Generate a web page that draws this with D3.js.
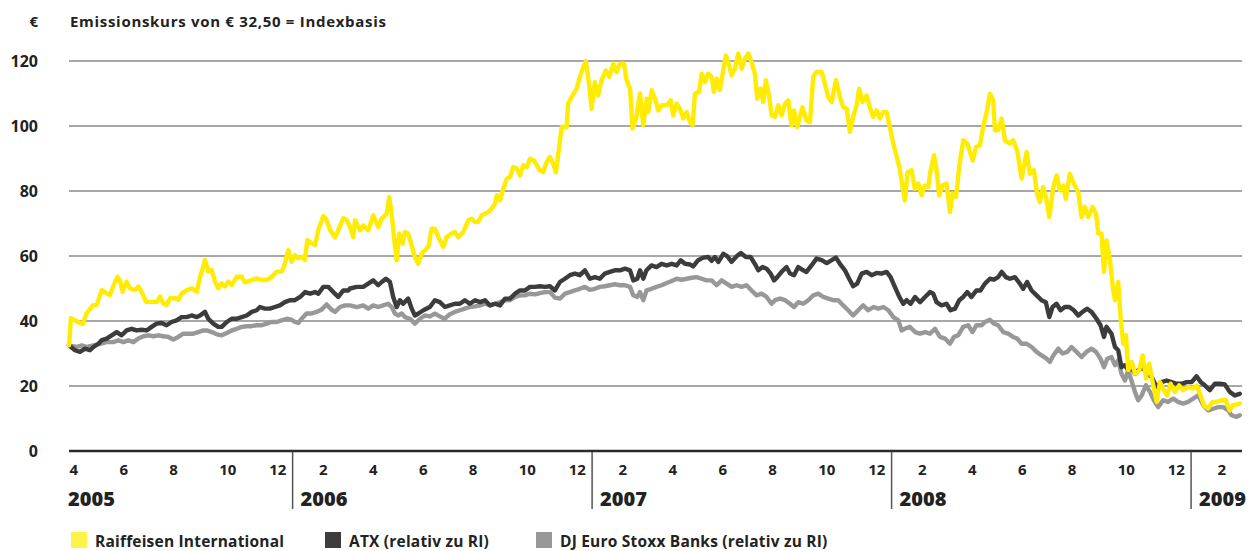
<!DOCTYPE html>
<html><head><meta charset="utf-8">
<script src="https://cdn.jsdelivr.net/npm/d3@7"></script>
<style>body{margin:0;background:#fff}svg{display:block}</style>
</head><body>
<svg id="chart" width="1254" height="551"></svg>
<script>
// time = months since 2005-01-01 (3 = April 2005), value = € (Index basis 32,50)
const riSeries = [[3.04,32.5],[3.12,40.9],[3.48,39.4],[3.59,39.1],[3.75,42.4],[4.01,44.9],[4.15,44.9],[4.35,49.5],[4.55,48.5],[4.68,48.0],[4.81,50.6],[4.98,53.6],[5.08,52.6],[5.19,49.0],[5.35,52.1],[5.48,50.1],[5.68,49.5],[5.82,50.6],[5.95,49.0],[6.13,45.9],[6.35,45.9],[6.55,45.9],[6.69,47.5],[6.82,45.4],[6.95,44.9],[7.09,47.0],[7.29,47.0],[7.42,46.5],[7.56,48.5],[7.76,49.5],[7.96,50.1],[8.16,49.0],[8.29,53.6],[8.40,56.2],[8.49,58.8],[8.62,55.2],[8.76,55.7],[8.89,52.1],[9.02,50.1],[9.16,51.6],[9.29,50.6],[9.42,52.1],[9.56,51.1],[9.76,53.6],[9.96,53.6],[10.09,51.9],[10.36,52.6],[10.56,53.1],[10.76,52.6],[10.96,52.6],[11.16,53.6],[11.36,55.2],[11.56,55.2],[11.65,56.7],[11.83,61.8],[11.96,58.2],[12.09,60.3],[12.23,59.3],[12.36,59.8],[12.49,58.8],[12.59,64.9],[12.76,63.9],[12.90,63.4],[13.03,68.0],[13.23,72.3],[13.36,71.1],[13.50,68.0],[13.70,65.7],[13.83,68.0],[14.03,71.6],[14.17,71.1],
[14.30,68.9],[14.43,65.8],[14.50,71.0],[14.70,67.9],[14.83,69.4],[15.03,67.9],[15.23,72.5],[15.43,68.9],[15.57,71.5],[15.77,73.0],[15.87,78.2],[15.97,73.0],[16.06,65.8],[16.17,58.7],[16.27,66.9],[16.41,63.8],[16.50,67.4],[16.63,66.9],[16.77,63.3],[16.90,59.7],[17.03,57.6],[17.17,60.7],[17.30,61.7],[17.44,62.8],[17.57,68.4],[17.70,68.4],[17.84,65.8],[18.04,62.8],[18.17,65.8],[18.37,66.9],[18.50,67.4],[18.64,65.8],[18.84,67.4],[19.04,71.0],[19.17,71.5],[19.31,70.5],[19.44,70.5],[19.57,72.5],[19.71,73.0],[19.84,73.5],[19.98,74.6],[20.11,76.1],[20.18,78.7],[20.31,77.1],[20.44,80.7],[20.58,83.8],[20.71,84.3],[20.84,87.4],[20.98,86.9],[21.11,84.8],[21.24,87.9],[21.38,87.4],[21.51,89.9],[21.67,89.4],[21.78,87.9],[21.91,86.4],[22.04,85.8],[22.18,88.9],[22.31,90.5],[22.44,88.4],[22.55,85.8],[22.68,93.5],[22.78,99.7],[22.98,99.7],[23.04,106.9],[23.18,108.9],[23.38,111.5],[23.51,115.1],[23.65,118.2],[23.75,120.0],[23.89,112.0],[23.98,105.3],[24.11,113.5],[24.24,109.4],[24.38,114.1],[24.55,117.1],[24.69,115.1],[24.85,119.2],[24.98,116.6],[25.12,119.2],[25.28,119.2],[25.38,114.1],[25.52,111.5],[25.62,99.2],[25.76,102.3],
[25.92,110.0],[26.05,100.2],[26.19,108.4],[26.25,104.3],[26.39,111.0],[26.52,108.4],[26.65,104.8],[26.79,106.4],[26.99,106.4],[27.15,107.9],[27.25,103.3],[27.39,106.9],[27.52,105.3],[27.65,102.3],[27.79,104.3],[27.92,101.2],[28.03,100.2],[28.12,110.0],[28.29,110.5],[28.39,116.1],[28.52,113.5],[28.65,116.1],[28.79,115.1],[28.88,110.5],[28.99,114.6],[29.12,111.0],[29.23,116.1],[29.36,121.7],[29.45,119.7],[29.59,115.6],[29.72,117.6],[29.86,122.3],[29.99,117.6],[30.12,120.7],[30.26,122.3],[30.39,119.7],[30.52,116.1],[30.62,108.4],[30.75,111.5],[30.86,107.4],[30.96,114.1],[31.10,108.9],[31.19,103.3],[31.33,102.8],[31.46,106.4],[31.59,103.3],[31.73,106.9],[31.86,107.9],[31.99,100.2],[32.09,104.8],[32.22,99.7],[32.33,102.8],[32.43,105.8],[32.59,101.7],[32.73,101.2],[32.86,115.1],[32.99,116.6],[33.20,116.6],[33.33,113.0],[33.46,108.9],[33.60,107.4],[33.77,114.1],[33.93,108.9],[34.06,105.8],[34.20,105.3],[34.33,98.2],[34.46,102.8],[34.60,106.4],[34.70,111.5],[34.84,107.4],[35.00,109.4],[35.13,105.8],[35.26,102.8],[35.40,104.8],[35.53,102.3],[35.66,104.3],[35.80,104.3],[35.93,99.7],[36.04,95.6],[36.17,91.5],[36.31,87.4],[36.44,81.2],[36.53,77.1],[36.64,85.8],[36.80,86.4],[36.93,80.7],[37.07,82.3],[37.20,78.7],[37.33,81.7],[37.47,81.2],
[37.54,85.3],[37.70,91.0],[37.80,86.4],[37.91,78.7],[38.04,81.7],[38.20,82.3],[38.34,73.5],[38.44,79.2],[38.58,78.2],[38.71,87.4],[38.87,95.6],[39.03,94.6],[39.25,89.4],[39.38,93.5],[39.54,94.1],[39.67,99.7],[39.81,104.3],[39.94,109.9],[40.07,107.9],[40.14,98.7],[40.27,98.7],[40.41,102.3],[40.54,95.6],[40.74,94.6],[40.87,95.6],[41.03,92.5],[41.21,83.8],[41.41,92.0],[41.54,85.3],[41.70,86.4],[41.83,79.2],[41.94,76.6],[42.07,81.2],[42.21,77.1],[42.32,72.0],[42.48,81.2],[42.61,84.8],[42.74,80.2],[42.88,81.7],[42.98,77.6],[43.14,85.3],[43.30,82.3],[43.48,79.7],[43.61,72.0],[43.74,75.1],[43.88,72.0],[44.05,75.1],[44.19,73.0],[44.28,66.9],[44.41,66.9],[44.51,55.1],[44.61,64.8],[44.75,58.7],[44.86,50.5],[44.95,46.4],[45.08,52.0],[45.18,40.7],[45.28,33.0],[45.39,35.6],[45.48,24.8],[45.62,27.4],[45.75,23.8],[45.92,24.8],[46.06,29.4],[46.19,22.3],[46.32,26.9],[46.46,21.2],[46.62,15.1],[46.75,21.2],[46.88,19.2],[47.04,17.1],[47.18,20.7],[47.35,18.2],[47.52,20.2],[47.68,18.7],[47.88,19.7],[48.08,19.2],[48.22,20.2],[48.38,17.1],[48.51,14.1],[48.68,13.1],[48.86,15.1],[49.02,15.1],[49.22,15.6],[49.39,15.6],[49.55,12.5],[49.68,14.1],[49.95,14.6]];

const atxSeries = [[3.04,32.5],[3.28,31.0],[3.48,30.5],[3.68,31.5],[3.88,31.0],[4.02,32.0],[4.22,33.0],[4.35,34.1],[4.55,34.6],[4.75,35.6],[4.95,36.6],[5.15,35.6],[5.35,37.1],[5.55,37.6],[5.75,37.1],[5.95,37.3],[6.15,37.1],[6.35,38.2],[6.55,39.2],[6.75,39.4],[6.95,38.7],[7.15,39.7],[7.35,40.2],[7.55,41.2],[7.75,41.2],[7.95,41.7],[8.16,41.2],[8.29,41.7],[8.49,42.8],[8.62,40.7],[8.82,39.2],[9.02,38.2],[9.16,38.2],[9.36,39.7],[9.56,40.7],[9.76,40.7],[9.96,41.2],[10.16,41.7],[10.36,42.8],[10.56,43.3],[10.69,44.3],[10.89,43.8],[11.09,43.8],[11.29,44.3],[11.49,44.8],[11.69,45.8],[11.89,46.4],[12.09,46.4],[12.30,47.4],[12.50,48.9],[12.70,48.4],[12.90,48.9],[13.03,48.4],[13.23,50.5],[13.43,50.5],[13.63,48.9],[13.83,47.4],[14.03,49.4],[14.23,49.4],
[14.30,50.0],[14.57,50.5],[14.83,50.5],[15.03,51.5],[15.23,52.5],[15.43,51.0],[15.57,52.0],[15.74,53.0],[15.90,52.0],[16.03,47.4],[16.17,44.3],[16.30,46.4],[16.43,45.3],[16.63,46.9],[16.77,43.8],[16.90,41.7],[17.04,42.3],[17.24,43.3],[17.50,44.3],[17.70,46.4],[17.90,45.8],[18.10,44.3],[18.30,44.8],[18.50,45.3],[18.70,45.3],[18.90,46.4],[19.10,45.3],[19.31,46.4],[19.51,45.8],[19.71,46.4],[19.91,44.8],[20.11,45.3],[20.31,44.8],[20.51,46.9],[20.71,46.9],[20.91,48.4],[21.11,49.4],[21.31,49.4],[21.51,50.5],[21.71,50.5],[21.91,50.7],[22.11,50.5],[22.31,50.7],[22.51,49.4],[22.71,52.0],[22.91,53.0],[23.11,54.1],[23.31,54.6],[23.51,54.1],[23.71,55.6],[23.91,53.0],[24.11,53.5],[24.31,53.0],[24.51,54.6],[24.71,55.1],[24.91,55.6],[25.12,55.6],[25.32,56.1],[25.52,55.6],[25.65,52.5],[25.81,53.0],
[25.92,55.6],[26.05,53.0],[26.18,55.6],[26.38,57.1],[26.58,56.6],[26.78,57.6],[26.99,57.1],[27.19,57.6],[27.39,57.1],[27.55,58.7],[27.72,57.6],[27.92,57.4],[28.05,56.8],[28.25,58.7],[28.45,59.5],[28.65,59.7],[28.79,58.5],[28.92,59.7],[29.06,58.2],[29.26,60.7],[29.42,59.9],[29.59,58.2],[29.79,59.9],[29.96,60.9],[30.16,59.7],[30.35,59.7],[30.52,57.6],[30.66,55.6],[30.83,56.6],[30.99,56.1],[31.15,54.6],[31.29,52.5],[31.42,53.5],[31.59,55.1],[31.79,56.6],[31.93,54.6],[32.09,54.1],[32.26,56.6],[32.46,55.6],[32.59,55.1],[32.79,57.1],[32.99,59.2],[33.20,58.7],[33.40,57.8],[33.60,58.7],[33.77,59.5],[33.93,57.6],[34.13,55.6],[34.30,53.0],[34.46,50.7],[34.62,51.5],[34.80,54.6],[35.00,55.1],[35.20,54.1],[35.40,54.8],[35.60,54.6],[35.80,55.1],[35.96,53.5],[36.13,50.5],[36.31,47.4],[36.47,45.3],[36.60,46.4],[36.76,45.3],[36.94,47.4],[37.14,45.8],[37.34,47.4],
[37.54,48.9],[37.67,48.4],[37.80,45.8],[38.00,44.8],[38.20,45.3],[38.36,43.3],[38.54,43.8],[38.71,46.4],[38.87,47.4],[39.03,48.9],[39.20,47.4],[39.40,49.4],[39.56,49.4],[39.74,51.5],[39.94,53.0],[40.10,52.7],[40.27,53.5],[40.41,55.1],[40.58,53.5],[40.74,53.0],[40.94,53.5],[41.14,51.5],[41.27,49.9],[41.43,52.0],[41.61,49.4],[41.81,47.9],[42.01,46.4],[42.18,45.8],[42.32,41.2],[42.45,44.3],[42.61,45.3],[42.77,43.3],[42.94,44.3],[43.12,44.3],[43.30,43.3],[43.48,41.7],[43.65,42.8],[43.84,43.8],[44.01,42.8],[44.21,40.7],[44.37,38.7],[44.51,35.1],[44.61,38.2],[44.81,36.1],[44.95,32.0],[45.08,31.0],[45.21,25.8],[45.35,26.4],[45.48,24.8],[45.61,25.8],[45.75,23.8],[45.88,24.8],[46.06,25.8],[46.22,23.8],[46.42,22.8],[46.62,19.7],[46.82,21.2],[47.02,21.7],[47.22,21.2],[47.42,20.7],[47.62,20.7],[47.82,21.2],[48.02,21.2],[48.22,23.0],[48.38,21.2],[48.55,20.2],[48.75,18.7],[48.95,20.7],[49.15,20.7],[49.35,20.5],[49.55,18.2],[49.75,17.1],[49.95,17.6]];

const djSeries = [[3.04,32.5],[3.35,32.0],[3.55,32.5],[3.75,32.0],[4.02,32.5],[4.28,33.0],[4.55,33.5],[4.82,33.5],[5.02,34.1],[5.22,33.5],[5.42,34.1],[5.62,33.5],[5.82,34.6],[6.02,35.3],[6.22,35.6],[6.42,35.3],[6.62,35.6],[6.82,35.3],[7.02,35.1],[7.22,34.3],[7.42,35.1],[7.62,36.1],[7.82,36.1],[8.02,36.1],[8.22,36.6],[8.42,37.1],[8.56,37.1],[8.76,36.6],[8.96,35.9],[9.16,35.6],[9.36,36.3],[9.56,37.1],[9.76,37.6],[9.96,38.2],[10.16,38.4],[10.36,38.4],[10.56,38.7],[10.76,38.7],[10.96,39.2],[11.16,39.7],[11.36,39.7],[11.56,40.2],[11.76,40.7],[11.96,40.4],[12.09,39.7],[12.23,39.4],[12.36,40.7],[12.56,42.3],[12.76,42.3],[12.96,42.8],[13.16,43.5],[13.36,45.1],[13.56,43.5],[13.70,42.8],[13.90,44.3],[14.10,44.8],
[14.30,44.8],[14.57,44.3],[14.83,44.8],[15.03,43.8],[15.23,44.8],[15.43,44.3],[15.63,44.8],[15.83,45.3],[15.97,44.3],[16.10,42.3],[16.23,41.7],[16.37,42.3],[16.50,41.2],[16.70,40.7],[16.90,39.2],[17.10,40.7],[17.30,41.7],[17.50,41.4],[17.70,42.3],[17.90,41.4],[18.10,40.7],[18.30,42.1],[18.50,42.8],[18.70,43.3],[18.90,43.8],[19.10,44.3],[19.31,44.5],[19.51,44.8],[19.71,45.3],[19.91,44.8],[20.11,45.3],[20.31,45.8],[20.51,46.4],[20.71,46.4],[20.91,47.4],[21.11,47.9],[21.31,47.9],[21.51,48.4],[21.71,48.2],[21.91,48.6],[22.11,48.9],[22.31,48.9],[22.51,47.2],[22.71,46.9],[22.91,48.4],[23.11,48.9],[23.31,49.4],[23.51,49.9],[23.71,50.5],[23.91,49.6],[24.11,49.9],[24.31,50.5],[24.51,50.7],[24.71,51.0],[24.91,51.3],[25.12,51.0],[25.32,51.0],[25.52,50.5],[25.65,47.9],[25.81,47.4],
[25.92,48.9],[26.05,46.4],[26.18,49.4],[26.38,49.9],[26.58,50.5],[26.78,51.0],[26.99,51.7],[27.19,52.3],[27.39,53.0],[27.59,52.7],[27.79,53.0],[27.99,53.3],[28.19,53.5],[28.39,53.0],[28.59,52.5],[28.79,52.5],[28.99,51.0],[29.19,52.5],[29.39,51.5],[29.59,50.5],[29.79,51.0],[29.99,50.5],[30.19,51.0],[30.39,49.4],[30.59,47.9],[30.79,48.4],[30.99,47.4],[31.19,45.3],[31.33,46.4],[31.53,46.9],[31.73,46.4],[31.93,45.3],[32.09,44.3],[32.26,45.8],[32.46,45.3],[32.66,46.4],[32.86,47.9],[33.06,48.4],[33.26,47.4],[33.46,46.9],[33.66,46.4],[33.86,46.4],[34.06,44.8],[34.26,43.3],[34.46,41.7],[34.66,43.3],[34.86,44.8],[35.07,43.3],[35.27,44.3],[35.47,43.8],[35.67,44.3],[35.87,43.3],[36.07,41.2],[36.27,40.2],[36.40,37.1],[36.53,37.6],[36.73,38.2],[36.94,36.6],[37.14,36.1],[37.34,36.6],
[37.54,36.1],[37.74,37.6],[37.94,35.1],[38.14,34.6],[38.34,33.0],[38.50,35.1],[38.67,35.6],[38.87,38.2],[39.07,38.7],[39.24,36.6],[39.40,38.7],[39.61,38.7],[39.74,39.7],[39.94,40.4],[40.10,39.2],[40.27,38.7],[40.47,36.6],[40.67,36.1],[40.87,35.1],[41.03,34.6],[41.21,33.0],[41.41,33.0],[41.61,32.0],[41.81,30.5],[42.01,29.4],[42.21,28.4],[42.34,27.4],[42.48,29.4],[42.68,31.5],[42.85,30.0],[43.04,30.5],[43.21,32.0],[43.41,30.5],[43.61,28.9],[43.81,30.5],[44.01,31.5],[44.19,30.5],[44.37,28.4],[44.51,25.8],[44.64,28.4],[44.81,28.9],[44.95,26.4],[45.08,27.9],[45.21,23.8],[45.35,21.7],[45.48,24.8],[45.61,21.7],[45.75,18.2],[45.88,15.6],[46.02,17.1],[46.19,20.2],[46.35,18.2],[46.51,15.6],[46.68,13.5],[46.88,15.6],[47.08,15.1],[47.28,16.1],[47.48,15.1],[47.68,14.6],[47.88,15.1],[48.08,16.1],[48.29,17.1],[48.49,14.1],[48.69,12.5],[48.89,13.0],[49.09,13.5],[49.29,13.5],[49.49,12.5],[49.62,11.0],[49.82,10.5],[49.95,11.0]];

const yTicks = [0,20,40,60,80,100,120];
const monthTicks = [3,5,7,9,11,13,15,17,19,21,23,25,27,29,31,33,35,37,39,41,43,45,47,49];
const monthLabels = ["4","6","8","10","12","2","4","6","8","10","12","2","4","6","8","10","12","2","4","6","8","10","12","2"];
const yearStarts = [3,12,24,36,48];
const yearLabels = ["2005","2006","2007","2008","2009"];
const seriesNames = ["Raiffeisen International","ATX (relativ zu RI)","DJ Euro Stoxx Banks (relativ zu RI)"];
const seriesColors = ["#ffec00","#3c3c3c","#98989b"];
const subtitle = "Emissionskurs von € 32,50 = Indexbasis";
const unitLabel = "€";

const svg = d3.select("#chart");
const font = "'Open Sans', Lato, sans-serif";
const x = d3.scaleLinear().domain([3, 50.04]).range([68, 1242]);
const y = d3.scaleLinear().domain([0, 120]).range([451, 61]);

// subtitle
svg.append("text").attr("x", 38).attr("y", 27).attr("text-anchor","end")
  .attr("font-family", font).attr("font-weight", 700).attr("font-size", 15).attr("fill","#222").text(unitLabel);
svg.append("text").attr("x", 70).attr("y", 27)
  .attr("font-family", font).attr("font-weight", 700).attr("font-size", 15).attr("letter-spacing", 0.7).attr("fill","#222").text(subtitle);

// gridlines
svg.append("g").selectAll("line").data(yTicks.filter(d => d > 0)).join("line")
  .attr("x1", x.range()[0] + 1).attr("x2", x.range()[1])
  .attr("y1", d => y(d)).attr("y2", d => y(d))
  .attr("stroke", "#8a8a8a").attr("stroke-width", 1.6);

// y axis labels
const yAxis = d3.axisLeft(y).tickValues(yTicks).tickSize(0).tickPadding(0);
const yg = svg.append("g").attr("transform", "translate(38,0)").call(yAxis);
yg.select(".domain").remove();
yg.selectAll("text").attr("font-family", font).attr("font-weight", 700).attr("font-size", 16).attr("fill", "#222").attr("dy","0.36em");

// lines
const line = d3.line().x(d => x(d[0])).y(d => y(d[1])).curve(d3.curveLinear);
[[djSeries, 2], [atxSeries, 1], [riSeries, 0]].forEach(([s, i]) => {
  svg.append("path").datum(s).attr("d", line).attr("fill", "none")
    .attr("stroke", seriesColors[i]).attr("stroke-width", 4.4)
    .attr("stroke-linejoin", "round").attr("stroke-linecap", "round");
});

// baseline
svg.append("line").attr("x1", x.range()[0] + 1).attr("x2", x.range()[1])
  .attr("y1", y(0)).attr("y2", y(0)).attr("stroke", "#2a2a2a").attr("stroke-width", 2.6);

// month labels
const xAxis = d3.axisBottom(x).tickValues(monthTicks).tickFormat((d, i) => monthLabels[i]).tickSize(0).tickPadding(0);
const xg = svg.append("g").attr("transform", `translate(1,${y(0)})`).call(xAxis);
xg.select(".domain").remove();
xg.selectAll("text").attr("text-anchor", "start").attr("y", 24).attr("dy", 0)
  .attr("font-family", font).attr("font-weight", 700).attr("font-size", 15).attr("fill", "#222");

// year separators and labels
svg.append("g").selectAll("line").data(yearStarts.slice(1)).join("line")
  .attr("x1", d => x(d)).attr("x2", d => x(d))
  .attr("y1", y(0) + 1).attr("y2", 509)
  .attr("stroke", "#555").attr("stroke-width", 1.5);
svg.append("g").selectAll("text").data(yearStarts).join("text")
  .attr("x", (d, i) => x(d) + (i === 0 ? 0 : 8)).attr("y", 506)
  .attr("font-family", font).attr("font-weight", 800).attr("font-size", 20).attr("fill", "#222")
  .text((d, i) => yearLabels[i]);

// legend
const legX = [71, 325, 536];
const lg = svg.append("g").selectAll("g").data(seriesNames).join("g")
  .attr("transform", (d, i) => `translate(${legX[i]},532)`);
lg.append("rect").attr("width", 16).attr("height", 16).attr("fill", (d, i) => i === 0 ? "#fff34a" : seriesColors[i]);
lg.append("text").attr("x", 24).attr("y", 14.5).text(d => d)
  .attr("font-family", font).attr("font-weight", 700).attr("font-size", 15.5).attr("letter-spacing", 0.2).attr("fill", "#222");
</script>
</body></html>
